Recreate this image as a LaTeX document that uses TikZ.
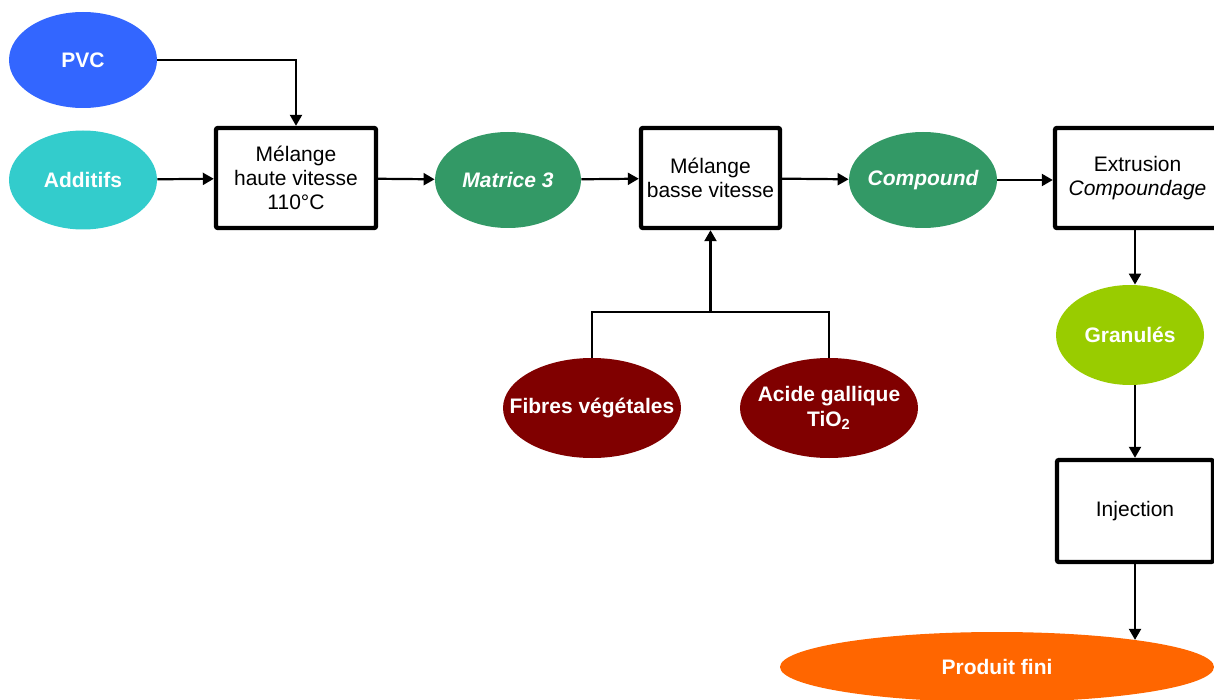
\documentclass[tikz,border=0pt]{standalone}
\usepackage{fontspec}
\setmainfont{Liberation Sans}
\usepackage{tikz}
\usetikzlibrary{positioning,arrows.meta,shapes.geometric}
\definecolor{pvcblue}{HTML}{3366FF}
\definecolor{addcyan}{HTML}{33CCCC}
\definecolor{matgreen}{HTML}{339966}
\definecolor{fibred}{HTML}{800000}
\definecolor{granlime}{HTML}{99CC00}
\definecolor{prodorange}{HTML}{FF6600}

\begin{document}
\begin{tikzpicture}[x=0.5pt, y=-0.5pt, >={Triangle[length=5.5pt,width=6pt]},
    blob/.style={ellipse, inner xsep=-12pt, inner ysep=0pt, minimum width=74pt, minimum height=48pt,
        text=white, font=\fontsize{10.5}{12.5}\selectfont\bfseries, align=center},
    stage/.style={draw, line width=2.2pt, rounded corners=1pt, inner sep=0pt,
        minimum height=50pt, font=\fontsize{10.5}{12}\selectfont, align=center},
    flow/.style={->, line width=1.1pt}]

\useasboundingbox (0,0) rectangle (1214,700);

% inputs
\node[blob, fill=pvcblue] (pvc) at (83,60) {PVC};
\node[blob, fill=addcyan, minimum height=49.5pt] (add) at (83,180) {Additifs};

% main line
\node[stage, minimum width=80pt] (hsmix) at (296,178) {Mélange\\haute vitesse\\110°C};
\node[blob, fill=matgreen, minimum width=73pt] (mat) at (508,180) {\itshape Matrice 3};
\node[stage, minimum width=69.5pt] (lsmix) at (710.5,178) {Mélange\\basse vitesse};
\node[blob, fill=matgreen] (comp) at (923,180) {\itshape Compound};
\node[stage, minimum width=82.5pt] (extr) at (1137.5,178) {Extrusion\\\textit{Compoundage}};

% fillers
\node[blob, fill=fibred, minimum width=89pt, minimum height=50pt] (fib) at (592,408) {Fibres végétales};
\node[blob, fill=fibred, minimum width=89pt, minimum height=50pt] (acid) at (829,408) {Acide gallique\\TiO\textsubscript{2}};
\coordinate (join) at (710.5,312);

% output
\node[blob, fill=granlime, minimum height=50pt] (gran) at (1130,335) {Granulés};
\node[stage, minimum width=78pt, minimum height=51pt] (inj) at (1135,511) {Injection};
\node[blob, fill=prodorange, minimum width=217pt, minimum height=35pt] (prod) at (997,667) {Produit fini};

\draw[flow] (pvc.east) -| (hsmix.north);
\draw[flow] (add) -- (hsmix);
\draw[flow] (hsmix) -- (mat);
\draw[flow] (mat) -- (lsmix);
\draw[flow] (lsmix) -- (comp);
\draw[flow] (comp) -- (comp -| extr.west);

\draw[line width=1.1pt] (fib.north) |- (join) -| (acid.north);
\draw[flow] (join) -- (lsmix.south);

\draw[flow] (extr.south -| inj.south) -- (inj.south |- gran.north);
\draw[flow] (inj.south |- gran.south) -- (inj.north);
\draw[flow] (inj.south) -- (inj.south |- prod.11);

\end{tikzpicture}
\end{document}
